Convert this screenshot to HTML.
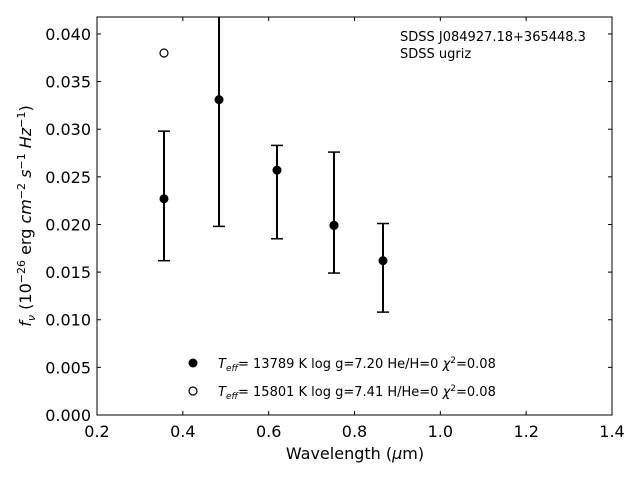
<!DOCTYPE html>
<html><head><meta charset="utf-8"><style>
html,body{margin:0;padding:0;background:#fff;}
svg text{font-family:"DejaVu Sans","Liberation Sans",sans-serif;}
</style></head><body>
<svg id="chart" width="640" height="480" xmlns="http://www.w3.org/2000/svg"></svg>
<script>
const bands = ["u","g","r","i","z"];
const wavelengths = [0.3561, 0.4843, 0.6194, 0.7522, 0.8664];
const fluxes = [0.0227, 0.0331, 0.0257, 0.0199, 0.0162];
const errHigh = [0.0298, 0.0464, 0.0283, 0.0276, 0.0201];
const errLow = [0.0162, 0.0198, 0.0185, 0.0149, 0.0108];
const modelWave = [0.3561, 0.7522];
const modelFlux = [0.0380, 0.0199];
const xTicks = [0.2,0.4,0.6,0.8,1.0,1.2,1.4];
const xTickLabels = ["0.2","0.4","0.6","0.8","1.0","1.2","1.4"];
const yTicks = [0,0.005,0.010,0.015,0.020,0.025,0.030,0.035,0.040];
const yTickLabels = ["0.000","0.005","0.010","0.015","0.020","0.025","0.030","0.035","0.040"];

const L=97,R=612,T=17,B=415, xmin=0.2,xmax=1.4, ymin=0,ymax=0.04178;
const X=v=>L+(v-xmin)/(xmax-xmin)*(R-L);
const Y=v=>B-(v-ymin)/(ymax-ymin)*(B-T);
const svg=document.getElementById('chart');
const NS="http://www.w3.org/2000/svg";
function mk(tag,attrs,parent){const e=document.createElementNS(NS,tag);for(const k in attrs)e.setAttribute(k,attrs[k]);(parent||svg).appendChild(e);return e;}

const clip=mk('clipPath',{id:'pc'});mk('rect',{x:L,y:T,width:R-L,height:B-T},clip);

const frame=mk('rect',{x:L,y:T,width:R-L,height:B-T,fill:'none',stroke:'#000','stroke-width':1});



xTicks.forEach((v,i)=>{
  const x=X(v);
  mk('line',{x1:x,x2:x,y1:B,y2:B-4,stroke:'#000'});
  mk('line',{x1:x,x2:x,y1:T,y2:T+4,stroke:'#000'});
  const t=mk('text',{x:x,y:B+22,'text-anchor':'middle','font-size':16});
  t.textContent=xTickLabels[i];
  
  
});
yTicks.forEach((v,i)=>{
  const y=Y(v);
  mk('line',{x1:L,x2:L+4,y1:y,y2:y,stroke:'#000'});
  mk('line',{x1:R,x2:R-4,y1:y,y2:y,stroke:'#000'});
  const t=mk('text',{x:L-6,y:y+6,'text-anchor':'end','font-size':16});
  t.textContent=yTickLabels[i];
  
  
});

const g=mk('g',{'clip-path':'url(#pc)'});


wavelengths.forEach((w,i)=>{
  const x=X(w);
  const eb=mk('line',{x1:x,x2:x,y1:Y(errHigh[i]),y2:Y(errLow[i]),stroke:'#000','stroke-width':2},g);
  
  
  mk('line',{x1:x-6,x2:x+6,y1:Y(errHigh[i]),y2:Y(errHigh[i]),stroke:'#000','stroke-width':1.5},g);
  mk('line',{x1:x-6,x2:x+6,y1:Y(errLow[i]),y2:Y(errLow[i]),stroke:'#000','stroke-width':1.5},g);
});
modelWave.forEach((w,i)=>{
  const c=mk('circle',{cx:X(w),cy:Y(modelFlux[i]),r:4,fill:'#fff',stroke:'#000','stroke-width':1.2},g);
  
  
});
wavelengths.forEach((w,i)=>{
  const c=mk('circle',{cx:X(w),cy:Y(fluxes[i]),r:4.5,fill:'#000'},g);
  
  
});
</script>
<svg style="position:absolute;left:0;top:0" width="640" height="480">
<text x="355" y="459" text-anchor="middle" font-size="16">Wavelength (<tspan font-style="italic">μ</tspan>m)</text>
<text transform="translate(31,216) rotate(-90)" text-anchor="middle" font-size="16"><tspan font-style="italic">f<tspan font-size="11" dy="4">ν</tspan></tspan><tspan dy="-4"> (10</tspan><tspan font-size="11" dy="-6">−26</tspan><tspan dy="6"> erg </tspan><tspan font-style="italic">cm</tspan><tspan font-size="11" dy="-6">−2</tspan><tspan dy="6"> </tspan><tspan font-style="italic">s</tspan><tspan font-size="11" dy="-6">−1</tspan><tspan dy="6"> </tspan><tspan font-style="italic">Hz</tspan><tspan font-size="11" dy="-6">−1</tspan><tspan dy="6">)</tspan></text>
<text x="400" y="41" font-size="13">SDSS J084927.18+365448.3</text>
<text x="400" y="58" font-size="13">SDSS ugriz</text>
<g>
<circle cx="193" cy="363" r="4.5" fill="#000"/>
<text x="218" y="368" font-size="13"><tspan font-style="italic">T<tspan font-size="9" dy="3">eff</tspan></tspan><tspan dy="-3">= 13789 K  log g=7.20  He/H=0  </tspan><tspan font-style="italic">χ</tspan><tspan font-size="9" dy="-5">2</tspan><tspan dy="5">=0.08</tspan></text>
<circle cx="193" cy="391" r="4" fill="#fff" stroke="#000" stroke-width="1.2"/>
<text x="218" y="396" font-size="13"><tspan font-style="italic">T<tspan font-size="9" dy="3">eff</tspan></tspan><tspan dy="-3">= 15801 K  log g=7.41  H/He=0  </tspan><tspan font-style="italic">χ</tspan><tspan font-size="9" dy="-5">2</tspan><tspan dy="5">=0.08</tspan></text>
</g>
</svg>
</body></html>
